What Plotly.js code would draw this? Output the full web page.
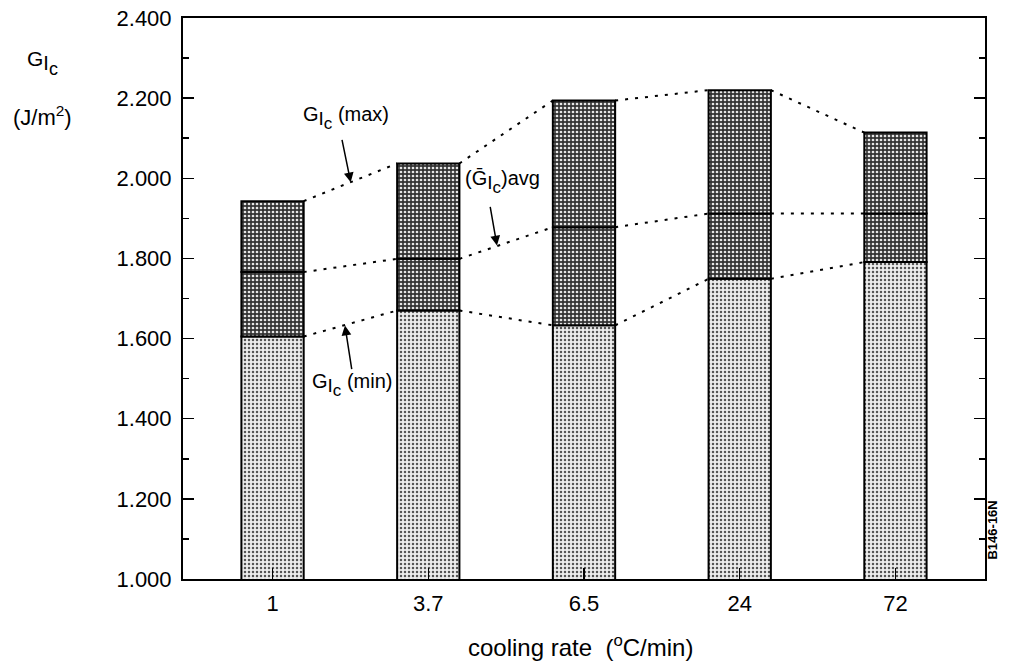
<!DOCTYPE html>
<html>
<head>
<meta charset="utf-8">
<script src="https://cdn.plot.ly/plotly-3.0.1.min.js"></script>
<style>html,body{margin:0;padding:0;background:#fff;}#chart{width:1010px;height:662px;}</style>
</head>
<body>
<div id="chart"></div>
<script>
// ---- data ----
const categories = ['1', '3.7', '6.5', '24', '72'];
const gicMin = [1.605, 1.670, 1.633, 1.749, 1.791];
const gicAvg = [1.766, 1.799, 1.878, 1.912, 1.912];
const gicMax = [1.943, 2.037, 2.194, 2.220, 2.114];
const yTickVals = [1.0, 1.2, 1.4, 1.6, 1.8, 2.0, 2.2, 2.4];

const idx = categories.map((c, i) => i);
const barW = 0.4;
const F = '"Liberation Sans", Arial, Helvetica, sans-serif';

const lightPat = {shape: '.', bgcolor: '#ededed', fgcolor: '#555555', size: 4, solidity: 0.3};
const darkPat = {shape: '.', bgcolor: '#333333', fgcolor: '#e6e6e6', size: 4, solidity: 0.36};

function barTrace(base, top, pat) {
  return {
    type: 'bar', x: idx, base: base, y: top.map((v, i) => v - base[i]), width: barW,
    marker: {color: pat.bgcolor, pattern: pat, line: {color: '#000', width: 2}},
    hoverinfo: 'skip', showlegend: false
  };
}

function connector(vals) {
  const xs = [], ys = [];
  for (let i = 0; i < vals.length - 1; i++) {
    xs.push(idx[i] + barW / 2, idx[i + 1] - barW / 2, null);
    ys.push(vals[i], vals[i + 1], null);
  }
  return {type: 'scatter', mode: 'lines', x: xs, y: ys, connectgaps: false,
    line: {color: '#000', width: 2, dash: '3px,7px'}, hoverinfo: 'skip', showlegend: false};
}

const zeros = categories.map(() => 0);
const data = [
  barTrace(zeros, gicMin, lightPat),
  barTrace(gicMin, gicAvg, darkPat),
  barTrace(gicAvg, gicMax, darkPat),
  connector(gicMin), connector(gicAvg), connector(gicMax)
];

function gic(sz, head) {
  const s1 = Math.round(sz * 0.95), s2 = Math.round(sz * 0.85);
  return (head || 'G') + '<sub><span style="font-size:' + s1 + 'px">I<sub><span style="font-size:' + s2 +
         'px">c</span></sub></span></sub>';
}
const annFont = {family: F, size: 20, color: '#000'};
const annotations = [
  // arrows
  {x: 0.502, y: 1.990, xref: 'x', yref: 'y', text: '', showarrow: true, ax: -9, ay: -44,
   arrowhead: 2, arrowsize: 1.3, arrowwidth: 1.5, arrowcolor: '#000'},
  {x: 1.441, y: 1.8325, xref: 'x', yref: 'y', text: '', showarrow: true, ax: -7, ay: -40,
   arrowhead: 2, arrowsize: 1.3, arrowwidth: 1.5, arrowcolor: '#000'},
  {x: 0.465, y: 1.6325, xref: 'x', yref: 'y', text: '', showarrow: true, ax: 7, ay: 45,
   arrowhead: 2, arrowsize: 1.3, arrowwidth: 1.5, arrowcolor: '#000'},
  // labels
  {x: 0.180, y: 2.150, xref: 'x', yref: 'y', xanchor: 'left', yanchor: 'middle', showarrow: false,
   text: gic(20) + ' (max)', font: annFont},
  {x: 1.223, y: 1.990, xref: 'x', yref: 'y', xanchor: 'left', yanchor: 'middle', showarrow: false,
   text: '(' + gic(20, '\u1E20') + ')avg', font: annFont},
  {x: 0.240, y: 1.485, xref: 'x', yref: 'y', xanchor: 'left', yanchor: 'middle', showarrow: false,
   text: gic(20) + ' (min)', font: annFont},
  // y axis title
  {x: -0.197, y: 0.92, xref: 'paper', yref: 'paper', xanchor: 'left', yanchor: 'middle', showarrow: false,
   text: gic(21), font: {family: F, size: 21, color: '#000'}},
  {x: -0.215, y: 0.826, xref: 'paper', yref: 'paper', xanchor: 'left', yanchor: 'middle', showarrow: false,
   text: '(J/m<sup>2</sup>)', font: {family: F, size: 22, color: '#000'}},
  // x axis title
  {x: 0.496, y: -0.12, xref: 'paper', yref: 'paper', xanchor: 'center', yanchor: 'middle', showarrow: false,
   text: 'cooling rate\u00a0\u00a0(<sup>o</sup>C/min)', font: {family: F, size: 24, color: '#000'}},
  // figure code
  {x: 1.0095, y: 0.0875, xref: 'paper', yref: 'paper', xanchor: 'center', yanchor: 'middle', showarrow: false,
   textangle: -90, text: '<b>B146-16N</b>', font: {family: F, size: 13, color: '#000'}}
];

const layout = {
  width: 1010, height: 662,
  margin: {l: 183, r: 25, t: 18, b: 83},
  paper_bgcolor: '#fff', plot_bgcolor: '#fff',
  barmode: 'overlay',
  showlegend: false,
  font: {family: F, size: 20, color: '#000'},
  xaxis: {
    range: [-0.575, 4.575], tickvals: idx, ticktext: categories,
    ticks: 'inside', ticklen: 11, tickwidth: 1.5, tickcolor: '#000',
    showline: true, linecolor: '#000', linewidth: 2, mirror: true,
    showgrid: false, zeroline: false, fixedrange: true,
    tickfont: {family: F, size: 22, color: '#000'}, ticklabelstandoff: 4
  },
  yaxis: {
    range: [1.0, 2.4], tickvals: yTickVals, tickformat: '.3f',
    ticks: 'inside', ticklen: 11, tickwidth: 1.5, tickcolor: '#000',
    minor: {dtick: 0.1, ticks: 'inside', ticklen: 6, tickwidth: 1.5, tickcolor: '#000', showgrid: false},
    showline: true, linecolor: '#000', linewidth: 2, mirror: 'ticks',
    showgrid: false, zeroline: false, fixedrange: true,
    tickfont: {family: F, size: 22, color: '#000'}, ticklabelstandoff: 5
  },
  annotations: annotations
};

Plotly.newPlot('chart', data, layout, {displayModeBar: false, staticPlot: true});
</script>
</body>
</html>
